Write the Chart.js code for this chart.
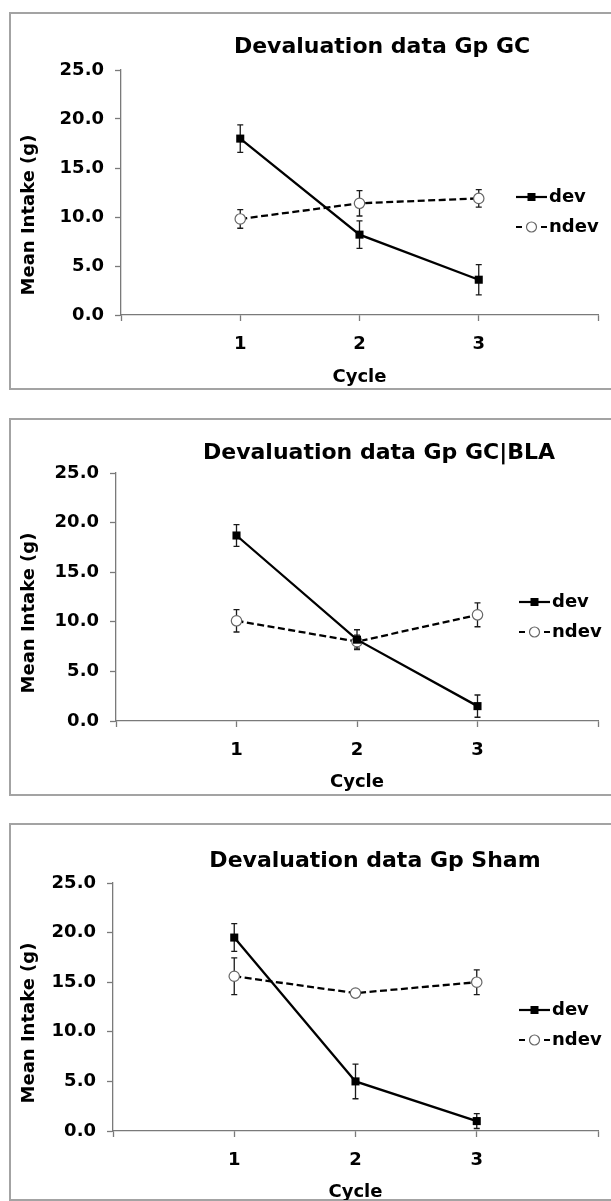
<!DOCTYPE html>
<html>
<head>
<meta charset="utf-8">
<script src="https://cdn.jsdelivr.net/npm/chart.js@4"></script>
<style>
  html, body { margin: 0; padding: 0; background: #fff; overflow: hidden; }
  body { width: 611px; height: 1201px; position: relative; }
  .panel { position: absolute; left: 0; width: 611px; height: 377px; }
  .frame { position: absolute; left: 9px; top: 0; width: 620px; height: 374px; border: 2px solid #a3a3a3; }
  canvas { position: absolute; left: 0; top: 0; }
</style>
</head>
<body>
<div class="panel" style="top:12px"><div class="frame"></div><canvas id="gc" width="611" height="377"></canvas></div>
<div class="panel" style="top:418px"><div class="frame"></div><canvas id="bla" width="611" height="377"></canvas></div>
<div class="panel" style="top:823px"><div class="frame"></div><canvas id="sham" width="611" height="377"></canvas></div>
<script>
"use strict";

// DATA
const cycles = [1, 2, 3];
const xTickValues = [0, 1, 2, 3, 4];
const yTickValues = [0, 5, 10, 15, 20, 25];
const seriesNames = ["dev", "ndev"];

const gcDev = [18.0, 8.2, 3.6];
const gcDevErr = [1.4, 1.4, 1.55];
const gcNdev = [9.8, 11.4, 11.9];
const gcNdevErr = [0.95, 1.3, 0.9];

const blaDev = [18.7, 8.2, 1.5];
const blaDevErr = [1.1, 1.0, 1.12];
const blaNdev = [10.1, 8.0, 10.7];
const blaNdevErr = [1.13, 0.65, 1.2];

const shamDev = [19.5, 5.0, 1.0];
const shamDevErr = [1.4, 1.75, 0.75];
const shamNdev = [15.6, 13.9, 15.0];
const shamNdevErr = [1.85, 0.25, 1.25];

const FONT = "'DejaVu Sans', Verdana, sans-serif";
const AXIS_GREY = "#7a7a7a";

// draws error bars, titles and the little legend
const panelDecor = {
  id: "panelDecor",
  beforeDatasetsDraw(chart) {
    const { ctx } = chart;
    const x = chart.scales.x;
    const y = chart.scales.y;
    ctx.save();
    ctx.strokeStyle = "#1a1a1a";
    ctx.lineWidth = 1.3;
    chart.data.datasets.forEach((ds) => {
      ds.data.forEach((pt, i) => {
        const e = ds.errors[i];
        const px = x.getPixelForValue(pt.x);
        const top = y.getPixelForValue(pt.y + e);
        const bot = y.getPixelForValue(pt.y - e);
        ctx.beginPath();
        ctx.moveTo(px, top);
        ctx.lineTo(px, bot);
        ctx.moveTo(px - 3, top);
        ctx.lineTo(px + 3, top);
        ctx.moveTo(px - 3, bot);
        ctx.lineTo(px + 3, bot);
        ctx.stroke();
      });
    });
    ctx.restore();
  },
  afterDraw(chart, args, opts) {
    const { ctx, chartArea } = chart;
    ctx.save();
    ctx.fillStyle = "#000";

    // chart title
    ctx.font = "bold 22px " + FONT;
    ctx.textAlign = "center";
    ctx.textBaseline = "middle";
    ctx.fillText(opts.title, opts.titleX, opts.titleY);

    // x axis title
    ctx.font = "bold 18px " + FONT;
    ctx.fillText("Cycle", (chartArea.left + chartArea.right) / 2, opts.xTitleY);

    // y axis title
    ctx.save();
    ctx.translate(opts.yTitleX, opts.yTitleY);
    ctx.rotate(-Math.PI / 2);
    ctx.fillText("Mean Intake (g)", 0, 0);
    ctx.restore();

    // legend
    const lx = opts.legendX;
    chart.data.datasets.forEach((ds, i) => {
      const ly = opts.legendY + i * 30;
      ctx.strokeStyle = "#000";
      ctx.lineWidth = 2.2;
      ctx.beginPath();
      if (i === 0) {
        ctx.moveTo(lx, ly);
        ctx.lineTo(lx + 31, ly);
      } else {
        ctx.moveTo(lx, ly);
        ctx.lineTo(lx + 6, ly);
        ctx.moveTo(lx + 25, ly);
        ctx.lineTo(lx + 31, ly);
      }
      ctx.stroke();
      if (i === 0) {
        ctx.fillStyle = "#000";
        ctx.fillRect(lx + 11.5, ly - 4, 8, 8);
      } else {
        ctx.beginPath();
        ctx.arc(lx + 15.5, ly, 5, 0, Math.PI * 2);
        ctx.fillStyle = "#fff";
        ctx.fill();
        ctx.strokeStyle = "#666";
        ctx.lineWidth = 1.2;
        ctx.stroke();
      }
      ctx.fillStyle = "#000";
      ctx.textAlign = "left";
      ctx.font = "bold 18px " + FONT;
      ctx.fillText(ds.label, lx + 33, ly);
    });
    ctx.restore();
  },
};

function makePanel(id, devVals, devErr, ndevVals, ndevErr, box, deco) {
  const Y_W = 70;
  const X_H = 50;
  return new Chart(document.getElementById(id), {
    type: "line",
    data: {
      datasets: [
        {
          label: seriesNames[0],
          data: cycles.map((c, i) => ({ x: c, y: devVals[i] })),
          errors: devErr,
          borderColor: "#000",
          borderWidth: 2.3,
          pointStyle: "rect",
          pointRadius: 5.7,
          pointBackgroundColor: "#000",
          pointBorderColor: "#000",
          pointBorderWidth: 0,
          tension: 0,
        },
        {
          label: seriesNames[1],
          data: cycles.map((c, i) => ({ x: c, y: ndevVals[i] })),
          errors: ndevErr,
          borderColor: "#000",
          borderWidth: 2.3,
          borderDash: [7, 3.5],
          pointStyle: "circle",
          pointRadius: 5.2,
          pointBackgroundColor: "#fff",
          pointBorderColor: "#666",
          pointBorderWidth: 1.2,
          tension: 0,
        },
      ],
    },
    options: {
      responsive: false,
      animation: false,
      events: [],
      layout: {
        padding: {
          left: box.left - Y_W,
          right: 611 - box.right,
          top: box.top,
          bottom: 377 - box.bottom - X_H,
        },
      },
      plugins: {
        legend: { display: false },
        tooltip: { enabled: false },
        panelDecor: deco,
      },
      scales: {
        x: {
          type: "linear",
          min: 0,
          max: 4,
          afterFit: (s) => { s.height = X_H; },
          afterBuildTicks: (s) => { s.ticks = xTickValues.map((v) => ({ value: v })); },
          border: { display: true, color: AXIS_GREY, width: 1.3 },
          grid: { drawOnChartArea: false, color: AXIS_GREY, tickLength: 6, tickWidth: 1.3 },
          ticks: {
            padding: 13,
            color: "#000",
            font: { family: FONT, size: 18, weight: "bold" },
            callback: (v) => (cycles.includes(v) ? String(v) : ""),
          },
        },
        y: {
          type: "linear",
          min: 0,
          max: 25,
          afterFit: (s) => { s.width = Y_W; },
          afterBuildTicks: (s) => { s.ticks = yTickValues.map((v) => ({ value: v })); },
          border: { display: true, color: AXIS_GREY, width: 1.3 },
          grid: { drawOnChartArea: false, color: AXIS_GREY, tickLength: 6, tickWidth: 1.3 },
          ticks: {
            padding: 11,
            color: "#000",
            font: { family: FONT, size: 18, weight: "bold" },
            callback: (v) => v.toFixed(1),
          },
        },
      },
    },
    plugins: [panelDecor],
  });
}

makePanel("gc", gcDev, gcDevErr, gcNdev, gcNdevErr,
  { left: 121, right: 602, top: 58, bottom: 303 },
  { title: "Devaluation data Gp GC", titleX: 382, titleY: 35, xTitleY: 365,
    yTitleX: 29, yTitleY: 203, legendX: 516, legendY: 185 });

makePanel("bla", blaDev, blaDevErr, blaNdev, blaNdevErr,
  { left: 116, right: 598, top: 55, bottom: 303 },
  { title: "Devaluation data Gp GC|BLA", titleX: 379, titleY: 35, xTitleY: 364,
    yTitleX: 29, yTitleY: 195, legendX: 519, legendY: 184 });

makePanel("sham", shamDev, shamDevErr, shamNdev, shamNdevErr,
  { left: 113, right: 599, top: 60, bottom: 308 },
  { title: "Devaluation data Gp Sham", titleX: 375, titleY: 38, xTitleY: 369,
    yTitleX: 29, yTitleY: 200, legendX: 519, legendY: 187 });
</script>
</body>
</html>
